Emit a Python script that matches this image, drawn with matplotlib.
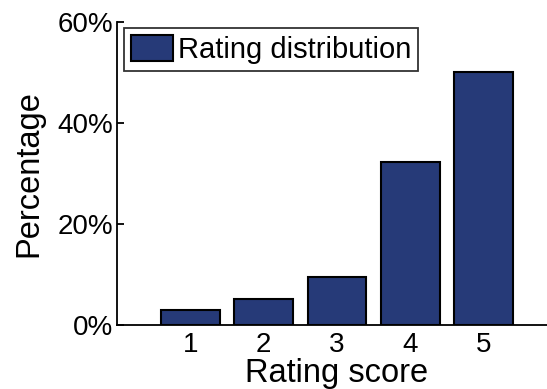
import matplotlib.pyplot as plt
from matplotlib.ticker import FuncFormatter

plt.rcParams['font.family'] = ['Liberation Sans', 'DejaVu Sans']

# Distribution of rating scores (percent)
scores = [1, 2, 3, 4, 5]
percent = [3.0, 5.2, 9.6, 32.3, 50.2]
y_ticks = [0, 20, 40, 60]

fig = plt.figure(figsize=(5.47, 3.89), dpi=100)
# right end of the axes runs past the figure edge (cropped like the original)
ax = fig.add_axes([0.2139, 0.1645, 0.8044, 0.7789])

ax.bar(scores, percent, width=0.8, color='#263a78', edgecolor='black',
       linewidth=1.5, label='Rating distribution', zorder=3)

ax.set_xlim(0, 6)
ax.set_ylim(0, 60)
ax.set_xticks(scores)
ax.set_yticks(y_ticks)
ax.yaxis.set_major_formatter(FuncFormatter(lambda v, p: f'{v:.0f}%'))

for side in ['top', 'right']:
    ax.spines[side].set_visible(False)
for side in ['left', 'bottom']:
    ax.spines[side].set_linewidth(1.3)

ax.tick_params(axis='y', direction='in', length=5, width=1.3, labelsize=20, pad=3)
ax.tick_params(axis='x', length=0, labelsize=20, pad=5)

ax.set_xlabel('Rating score', fontsize=23.5, labelpad=0)
ax.set_ylabel('Percentage', fontsize=23.5)
ax.yaxis.set_label_coords(-0.165, 0.5)

leg = ax.legend(loc='upper left', fontsize=21, frameon=True, fancybox=False,
                handlelength=1.44, handleheight=0.96, handletextpad=0.15,
                borderpad=0.25, borderaxespad=0.0, bbox_to_anchor=(0.016, 0.98))
leg.get_frame().set_edgecolor('black')
leg.get_frame().set_linewidth(1.3)

fig.savefig('out.png', dpi=100)
